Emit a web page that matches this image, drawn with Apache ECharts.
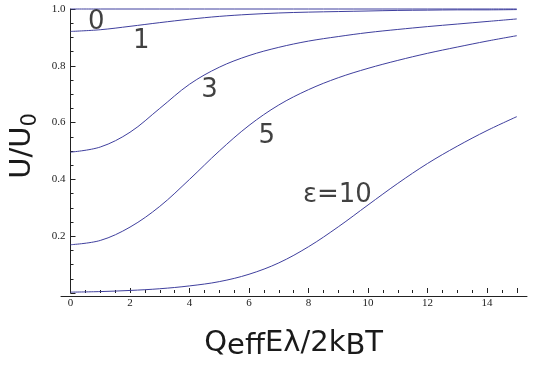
<!DOCTYPE html>
<html>
<head>
<meta charset="utf-8">
<script src="https://cdn.jsdelivr.net/npm/echarts@6/dist/echarts.min.js"></script>
<style>
html,body{margin:0;padding:0;background:#fff;}
#chart{width:534px;height:366px;}
</style>
</head>
<body>
<div id="chart"></div>
<script>
// x values (Q_eff E λ / 2 k_B T)
const xValues = [0,1,2,3,4,5,6,7,8,9,10,11,12,13,14,15];
// U/U0 for each ε
const eps0  = [1,1,1,1,1,1,1,1,1,1,1,1,1,1,1,1];
const eps1  = [0.921,0.927,0.939,0.952,0.964,0.974,0.981,0.986,0.989,0.991,0.993,0.995,0.996,0.997,0.997,0.998];
const eps3  = [0.496,0.514,0.566,0.650,0.735,0.795,0.836,0.865,0.887,0.903,0.917,0.928,0.938,0.947,0.956,0.965];
const eps5  = [0.170,0.185,0.232,0.305,0.400,0.500,0.590,0.662,0.716,0.758,0.791,0.819,0.844,0.866,0.887,0.906];
const eps10 = [0.003,0.005,0.009,0.015,0.025,0.040,0.066,0.106,0.163,0.233,0.310,0.386,0.456,0.517,0.572,0.621];
// curve annotations: text and anchor (data coords)
const annText = ['0','1','3','5','ε=10'];
const annX = [0.87, 2.38, 4.67, 6.6, 8.97];
const annY = [0.952, 0.886, 0.715, 0.552, 0.345];
// tick steps
const xTickStep = 2;
const yTickStep = 0.2;

const lineColor = '#3f3f9e';
const axisColor = '#222';

function pairs(ys){ return xValues.map((x,i)=>[x, ys[i]]); }
function curve(name, ys){
  return {
    name, type:'line', data: pairs(ys), smooth: 0.35,
    showSymbol:false, clip:false,
    lineStyle:{color:lineColor, width:1}, silent:true, z:3
  };
}

const chart = echarts.init(document.getElementById('chart'), null, {renderer:'canvas'});
chart.setOption({
  animation:false,
  backgroundColor:'#fff',
  grid:[
    {left:70.5, right:17.2, top:9, bottom:70, containLabel:false},
    {left:61, right:7, top:9, bottom:70, containLabel:false}
  ],
  xAxis:[
    {
      type:'value', gridIndex:0, min:0, max:15, interval:xTickStep,
      axisLine:{show:false},
      axisTick:{show:true, inside:true, length:5, lineStyle:{color:axisColor, width:1}},
      minorTick:{show:true, splitNumber:4, length:3, lineStyle:{color:axisColor, width:1}},
      splitLine:{show:false},
      axisLabel:{
        margin:5, color:'#222', fontFamily:'Liberation Serif', fontSize:11,
        formatter:v => (v % 2 === 0 ? String(v) : '')
      },
      name:'{m|Q}{s|eff}{m|Eλ/2k}{s|B}{m|T}',
      nameLocation:'middle', nameGap:32,
      nameTextStyle:{
        rich:{
          m:{fontFamily:'DejaVu Sans', fontSize:29, color:'#1a1a1a', lineHeight:36},
          s:{fontFamily:'DejaVu Sans', fontSize:29, color:'#1a1a1a', lineHeight:25, verticalAlign:'bottom'}
        }
      }
    },
    {
      type:'value', gridIndex:1, min:0, max:1,
      axisLine:{show:true, lineStyle:{color:axisColor, width:1}},
      axisTick:{show:false}, axisLabel:{show:false}, splitLine:{show:false}
    }
  ],
  yAxis:[
    {
      type:'value', gridIndex:0, min:0, max:1, interval:yTickStep,
      axisLine:{show:true, lineStyle:{color:axisColor, width:1}},
      axisTick:{show:true, inside:true, length:5, lineStyle:{color:axisColor, width:1}},
      minorTick:{show:true, splitNumber:4, length:3, lineStyle:{color:axisColor, width:1}},
      splitLine:{show:false},
      axisLabel:{
        margin:5, color:'#222', fontFamily:'Liberation Serif', fontSize:11,
        formatter:v => (v === 0 ? '' : v.toFixed(1))
      },
      name:'{m|U/U}{s|0}',
      nameLocation:'middle', nameGap:23, nameRotate:90,
      nameTextStyle:{
        padding:[0,0,0,10],
        rich:{
          m:{fontFamily:'DejaVu Sans', fontSize:29, color:'#1a1a1a', lineHeight:36},
          s:{fontFamily:'DejaVu Sans', fontSize:21, color:'#1a1a1a', lineHeight:22, verticalAlign:'bottom'}
        }
      }
    },
    {
      type:'value', gridIndex:1, min:0, max:1, show:false
    }
  ],
  series:[
    curve('ε=0', eps0),
    curve('ε=1', eps1),
    curve('ε=3', eps3),
    curve('ε=5', eps5),
    curve('ε=10', eps10),
    {
      type:'scatter', symbolSize:0, silent:true, z:5,
      data: annText.map((t,i)=>({value:[annX[i], annY[i]], name:t})),
      label:{
        show:true, position:'inside', formatter:p=>p.name,
        fontFamily:'DejaVu Sans', fontSize:26, color:'#111'
      }
    }
  ]
});
</script>
</body>
</html>
